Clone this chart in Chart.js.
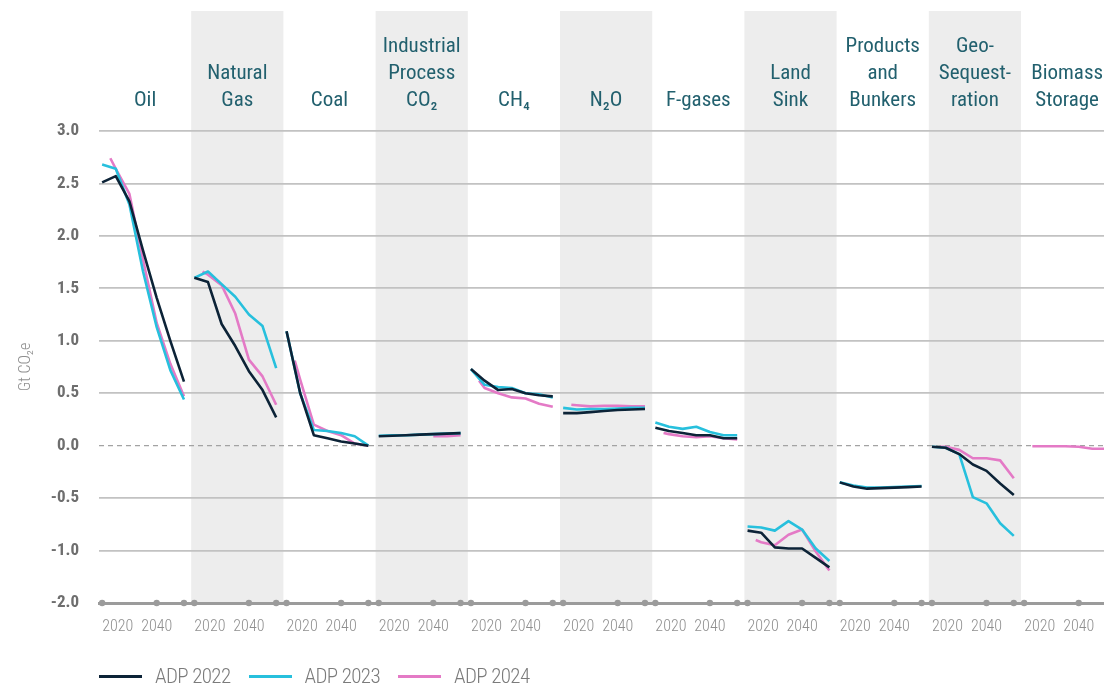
<!DOCTYPE html>
<html>
<head>
<meta charset="utf-8">
<script src="https://cdn.jsdelivr.net/npm/chart.js@4.4.1/dist/chart.umd.min.js"></script>
<style>
  html, body { margin: 0; padding: 0; background: #ffffff; }
  #wrap { position: relative; width: 1104px; height: 687px; overflow: hidden; background: #ffffff; }
  #chart { position: absolute; left: 0; top: 0; }
  #legend {
    position: absolute; left: 99px; top: 662px; height: 28px;
    display: flex; align-items: center;
    font-family: 'Roboto Condensed', 'DejaVu Sans Condensed', sans-serif;
  }
  #legend .item { width: 149.5px; display: flex; align-items: center; }
  #legend .swatch { width: 43px; height: 3px; margin-right: 13px; }
  #legend .text { font-size: 21px; font-weight: 300; letter-spacing: -0.6px; color: #7b7b7b; white-space: nowrap; }
</style>
</head>
<body>
<div id="wrap">
  <canvas id="chart" width="1104" height="687"></canvas>
  <div id="legend"></div>
</div>
<script>
// Emission categories, one small panel each (multi-line titles as arrays)
const categories = [
  ['Oil'], ['Natural', 'Gas'], ['Coal'], ['Industrial', 'Process', 'CO₂'], ['CH₄'], ['N₂O'],
  ['F-gases'], ['Land', 'Sink'], ['Products', 'and', 'Bunkers'], ['Geo-', 'Sequest-', 'ration'],
  ['Biomass', 'Storage']
];

const seriesNames = ['ADP 2022', 'ADP 2023', 'ADP 2024'];
const seriesColors = ['#0c2337', '#27c0dd', '#e47ac6'];

// Projection years per series
const yearsFrom2020 = [2020, 2025, 2030, 2035, 2040, 2045, 2050];
const yearsFrom2023 = [2023, 2025, 2030, 2035, 2040, 2045, 2050];

// Bottom-axis tick years in each panel
const xTickYears = [2020, 2040, 2050];

// Gt CO2e by category (rows follow `categories`; null = not shown)
const adp2022 = [
  [2.51, 2.57, 2.33, 1.86, 1.41, 1.00, 0.61],
  [1.60, 1.56, 1.16, 0.95, 0.71, 0.53, 0.27],
  [1.09, 0.50, 0.10, 0.07, 0.04, 0.02, 0.00],
  [0.09, 0.095, 0.10, 0.105, 0.11, 0.115, 0.12],
  [0.73, 0.62, 0.53, 0.54, 0.50, 0.48, 0.47],
  [0.31, 0.31, 0.32, 0.33, 0.34, 0.345, 0.35],
  [0.17, 0.14, 0.12, 0.10, 0.10, 0.07, 0.07],
  [-0.81, -0.83, -0.97, -0.98, -0.98, -1.07, -1.16],
  [-0.35, -0.39, -0.41, -0.405, -0.40, -0.395, -0.39],
  [-0.01, -0.02, -0.08, -0.18, -0.24, -0.36, -0.47],
  null
];

const adp2023 = [
  [2.68, 2.64, 2.30, 1.66, 1.13, 0.72, 0.44],
  [1.60, 1.66, 1.54, 1.42, 1.25, 1.14, 0.74],
  [1.09, 0.50, 0.15, 0.14, 0.12, 0.09, 0.00],
  [0.095, 0.10, 0.10, 0.105, 0.11, 0.115, 0.12],
  [0.73, 0.58, 0.56, 0.55, 0.50, 0.49, 0.46],
  [0.36, 0.345, 0.35, 0.35, 0.355, 0.36, 0.36],
  [0.22, 0.18, 0.16, 0.18, 0.13, 0.10, 0.10],
  [-0.77, -0.78, -0.81, -0.72, -0.80, -0.98, -1.10],
  [-0.35, -0.38, -0.40, -0.40, -0.395, -0.39, -0.385],
  [-0.01, -0.02, -0.08, -0.49, -0.55, -0.74, -0.86],
  null
];

const adp2024 = [
  [2.74, 2.64, 2.40, 1.77, 1.17, 0.78, 0.47],
  [1.66, 1.63, 1.53, 1.26, 0.82, 0.66, 0.39],
  [0.81, 0.63, 0.20, 0.14, 0.10, 0.02, 0.00],
  [null, null, null, null, 0.09, 0.09, 0.10],
  [0.62, 0.55, 0.50, 0.46, 0.45, 0.40, 0.37],
  [0.39, 0.385, 0.375, 0.38, 0.38, 0.375, 0.375],
  [0.12, 0.11, 0.09, 0.08, 0.09, 0.07, 0.06],
  [-0.90, -0.92, -0.95, -0.85, -0.80, -1.01, -1.19],
  null,
  [-0.01, -0.01, -0.04, -0.12, -0.12, -0.14, -0.31],
  [-0.005, -0.005, -0.005, -0.005, -0.01, -0.03, -0.03]
];

const seriesValues = [adp2022, adp2023, adp2024];
const seriesYears = [yearsFrom2020, yearsFrom2020, yearsFrom2023];

// Layout / style constants
const FONT = "'Roboto Condensed', 'DejaVu Sans Condensed', sans-serif";
const PANEL_START = 2018.85;     // year at the left edge of each panel
const PANEL_SPAN = 33.8;         // years per panel, including the gap
const LAST_PANEL_WEIGHT = 0.9;   // the last panel runs off the right edge
const BAND_TOP = 11;             // top of the shaded panel bands
const GRID = '#c2c2c2';
const AXIS = '#9b9b9b';

// keep every axis flush with the chart area (no label overhang padding)
const noOverhang = s => { s.paddingLeft = 0; s.paddingRight = 0; };

const scales = {};
categories.forEach((_, k) => {
  const w = k === categories.length - 1 ? LAST_PANEL_WEIGHT : 1;
  scales['x' + k] = {
    type: 'linear', position: 'bottom', stack: 'panels', stackWeight: w,
    min: PANEL_START, max: PANEL_START + PANEL_SPAN * w,
    grid: { display: false },
    border: { display: true, color: AXIS, width: 3 },
    afterBuildTicks: s => { s.ticks = xTickYears.map(v => ({ value: v })); },
    afterFit: s => { s.height = 84; noOverhang(s); },
    ticks: {
      autoSkip: false, maxRotation: 0, align: 'inner', padding: 6,
      color: '#8f8f8f', font: { family: FONT, size: 16, weight: 300 },
      callback: v => (v === 2050 ? '' : String(v))
    }
  };
});

scales.titles = {
  type: 'linear', position: 'top',
  min: 0, max: categories.length - 1 + LAST_PANEL_WEIGHT,
  grid: { display: false }, border: { display: false },
  afterBuildTicks: s => { s.ticks = categories.map((_, k) => ({ value: k + 0.5 })); },
  afterFit: s => { s.height = 131; noOverhang(s); },
  ticks: {
    autoSkip: false, maxRotation: 0, padding: 9,
    color: '#22606e', font: { family: FONT, size: 21, lineHeight: 1.29 },
    callback: (v, i) => categories[i]
  }
};

scales.y = {
  type: 'linear', position: 'left', min: -1.5, max: 3,
  ticks: {
    stepSize: 0.5, padding: 20, color: '#6e6e6e',
    font: { family: FONT, size: 17, weight: 'bold' },
    // the bottom tick marks the broken axis
    callback: v => (v === -1.5 ? '-2.0' : v.toFixed(1))
  },
  afterFit: s => { s.width = 99; },
  grid: {
    drawTicks: false,
    color: c => (c.tick && c.tick.value === -1.5 ? 'rgba(0,0,0,0)' : (c.tick && c.tick.value === 0 ? '#a3a3a3' : GRID)),
    lineWidth: c => (c.tick && c.tick.value === 0 ? 1.3 : 1.8)
  },
  border: {
    display: false,
    dash: c => (c.tick && c.tick.value === 0 ? [5, 4] : [])
  },
  title: {
    display: true, text: 'Gt CO₂e', color: '#8f8f8f',
    font: { family: FONT, size: 16, weight: 300 }, padding: { top: 16, bottom: 0 }
  }
};

const datasets = [];
categories.forEach((_, k) => {
  seriesValues.forEach((vals, s) => {
    const row = vals[k];
    if (!row) return;
    datasets.push({
      label: seriesNames[s],
      xAxisID: 'x' + k, yAxisID: 'y',
      order: s,
      data: row.map((v, i) => ({ x: seriesYears[s][i], y: v })).filter(p => p.y !== null),
      borderColor: seriesColors[s], backgroundColor: seriesColors[s],
      borderWidth: 2.6, pointRadius: 0, tension: 0, fill: false,
      borderJoinStyle: 'round'
    });
  });
});

// Shaded bands behind alternate panels, and dots on the bottom axis
const panelDecor = {
  id: 'panelDecor',
  beforeDraw(chart) {
    const ctx = chart.ctx;
    const bottom = chart.chartArea.bottom;
    ctx.save();
    ctx.fillStyle = '#ededed';
    categories.forEach((_, k) => {
      if (k % 2 === 1) {
        const sc = chart.scales['x' + k];
        ctx.fillRect(sc.left, BAND_TOP, sc.right - sc.left, bottom - BAND_TOP);
      }
    });
    ctx.restore();
  },
  afterDraw(chart) {
    const ctx = chart.ctx;
    const { bottom, right } = chart.chartArea;
    ctx.save();
    ctx.fillStyle = AXIS;
    categories.forEach((_, k) => {
      const sc = chart.scales['x' + k];
      sc.ticks.forEach(t => {
        const px = sc.getPixelForValue(t.value);
        if (px > right) return;
        ctx.beginPath();
        ctx.arc(px, bottom, 3.2, 0, Math.PI * 2);
        ctx.fill();
      });
    });
    ctx.restore();
  }
};

new Chart(document.getElementById('chart'), {
  type: 'line',
  data: { datasets },
  options: {
    responsive: false, animation: false, devicePixelRatio: 1,
    layout: { padding: 0 },
    plugins: { legend: { display: false }, tooltip: { enabled: false } },
    scales
  },
  plugins: [panelDecor]
});

// Legend
const legend = document.getElementById('legend');
seriesNames.forEach((name, s) => {
  const item = document.createElement('div');
  item.className = 'item';
  const sw = document.createElement('div');
  sw.className = 'swatch';
  sw.style.background = seriesColors[s];
  const tx = document.createElement('span');
  tx.className = 'text';
  tx.textContent = name;
  item.appendChild(sw);
  item.appendChild(tx);
  legend.appendChild(item);
});
</script>
</body>
</html>
